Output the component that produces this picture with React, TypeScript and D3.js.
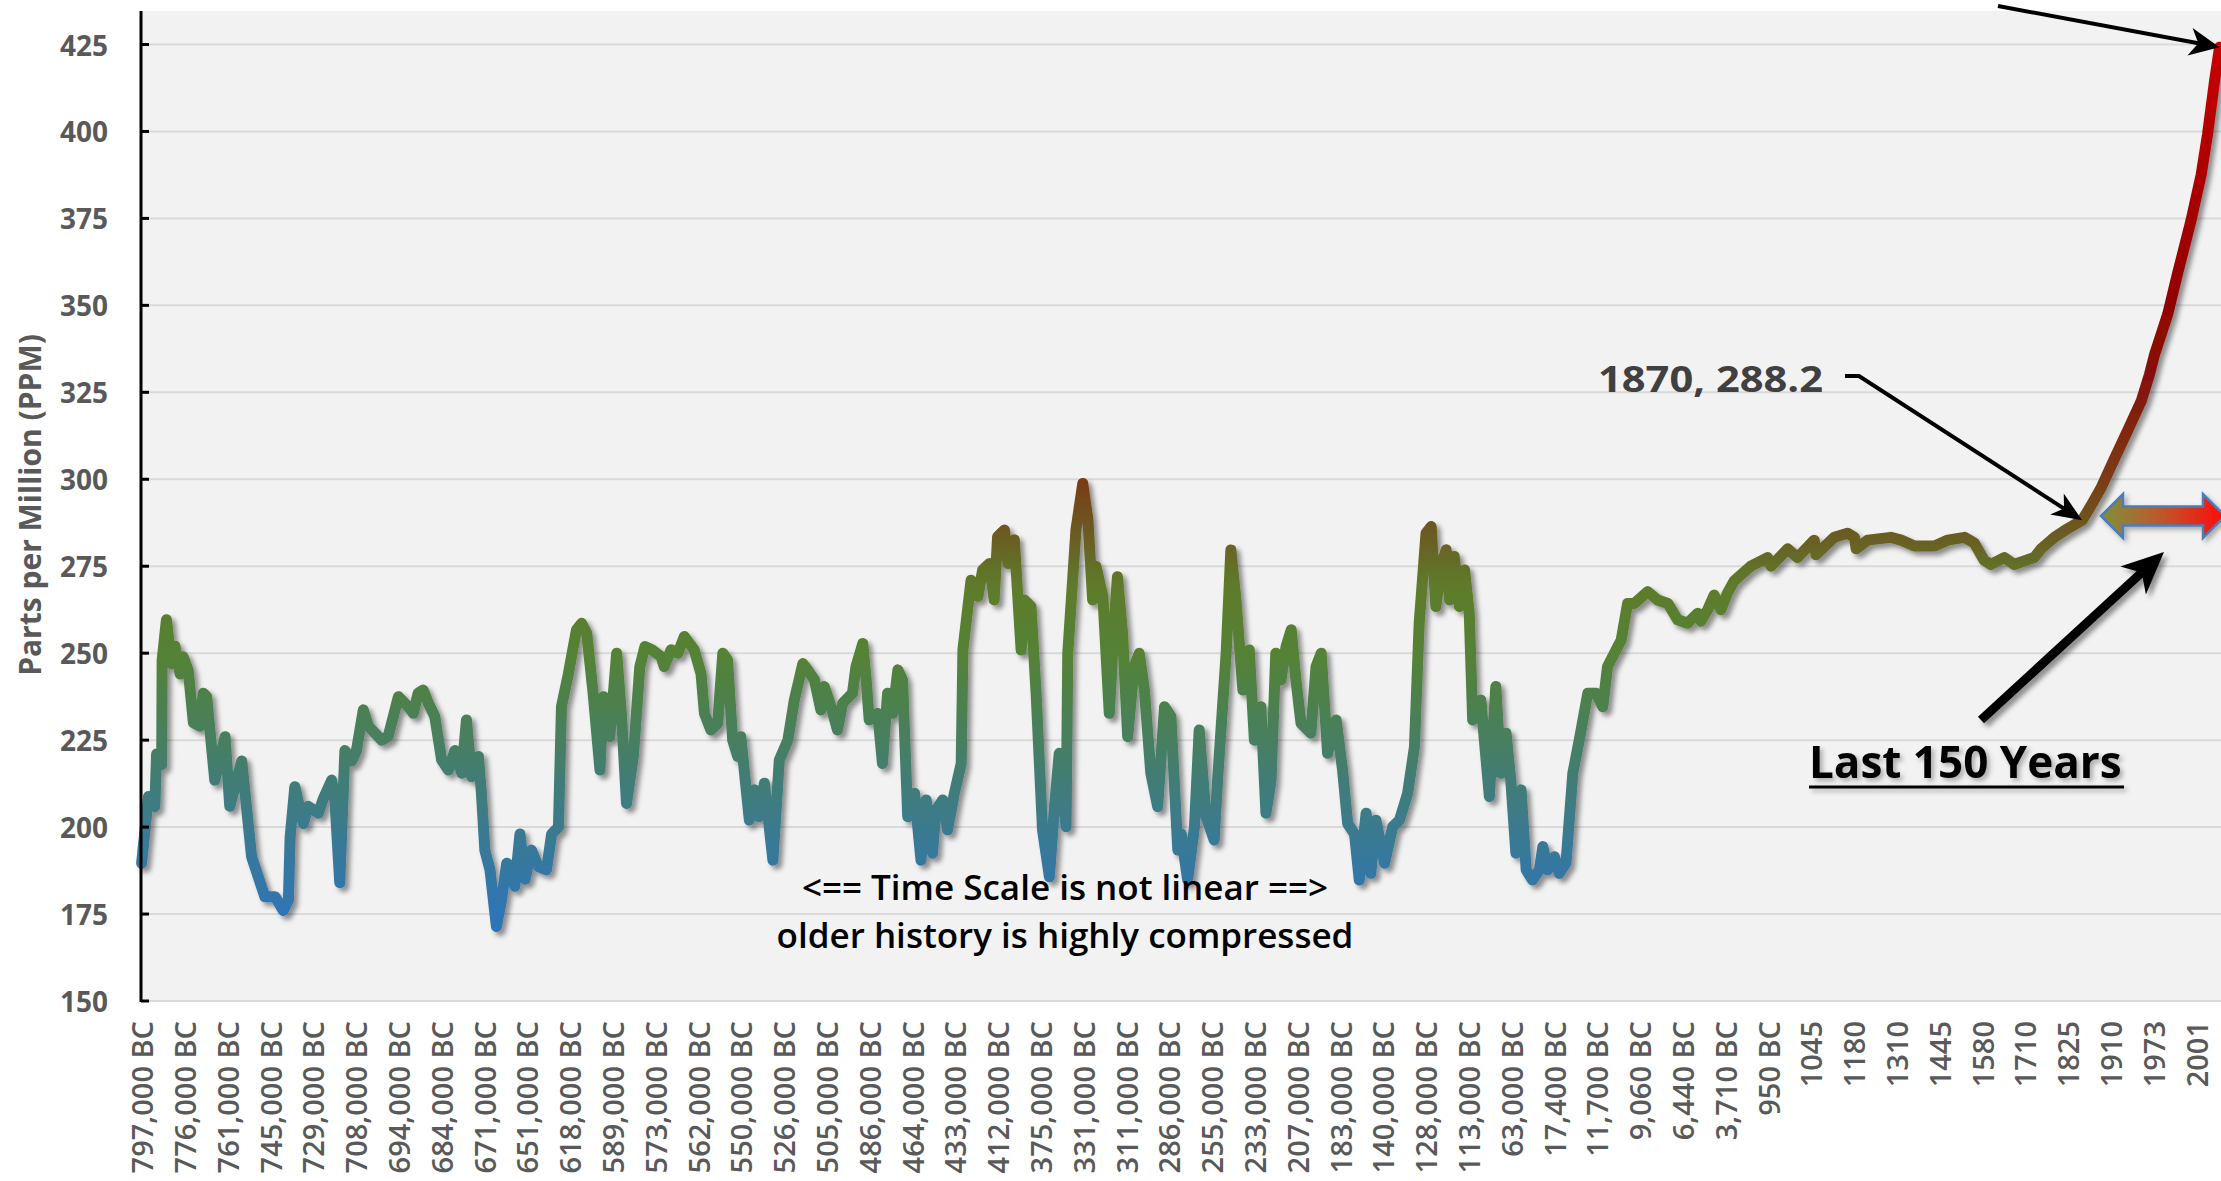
import React from 'react';
import * as d3 from 'd3';

// ---------- DATA ----------
const xLabels: string[] = [
  '797,000 BC', '776,000 BC', '761,000 BC', '745,000 BC', '729,000 BC', '708,000 BC', '694,000 BC',
  '684,000 BC', '671,000 BC', '651,000 BC', '618,000 BC', '589,000 BC', '573,000 BC', '562,000 BC',
  '550,000 BC', '526,000 BC', '505,000 BC', '486,000 BC', '464,000 BC', '433,000 BC', '412,000 BC',
  '375,000 BC', '331,000 BC', '311,000 BC', '286,000 BC', '255,000 BC', '233,000 BC', '207,000 BC',
  '183,000 BC', '140,000 BC', '128,000 BC', '113,000 BC', '63,000 BC', '17,400 BC', '11,700 BC',
  '9,060 BC', '6,440 BC', '3,710 BC', '950 BC', '1045', '1180', '1310', '1445', '1580', '1710',
  '1825', '1910', '1973', '2001',
];

const yTicks: number[] = [150, 175, 200, 225, 250, 275, 300, 325, 350, 375, 400, 425];

// [category position (label index), CO2 ppm]
const cycles800kTo600k: [number, number][] = [
  [0, 189.6], [0.16, 208.8], [0.31, 205.9], [0.35, 221], [0.47, 218], [0.48, 248], [0.58, 259.6],
  [0.7, 247], [0.78, 252], [0.9, 244], [0.97, 249], [1.09, 245], [1.21, 230], [1.36, 229],
  [1.44, 238.5], [1.52, 237.5], [1.71, 213.5], [1.95, 226], [2.06, 206], [2.34, 219], [2.57, 191.5],
  [2.88, 180], [3.12, 180], [3.31, 176], [3.43, 179], [3.47, 197], [3.58, 211.6], [3.78, 201],
  [3.89, 206], [4.13, 204], [4.24, 208], [4.44, 213.5], [4.52, 207], [4.63, 184], [4.75, 222],
  [4.91, 219], [5.02, 222], [5.18, 233.7], [5.3, 229], [5.61, 225], [5.76, 226], [6.0, 237.5],
  [6.23, 234.6], [6.35, 232.7], [6.46, 238.5], [6.58, 239.4], [6.7, 235.6], [6.85, 231.8],
  [7.01, 219.3], [7.17, 216.4], [7.32, 222], [7.48, 215.5], [7.59, 230.8], [7.71, 214.5],
  [7.87, 220.3], [7.94, 209.7], [8.02, 193.4], [8.14, 187.7], [8.29, 171.4], [8.41, 179],
  [8.53, 189.6], [8.64, 188.6], [8.72, 183], [8.84, 198], [8.96, 185], [9.11, 193.4], [9.27, 188.6],
  [9.46, 187.7], [9.58, 198], [9.74, 200], [9.81, 234.6], [9.97, 244], [10.16, 256.7],
  [10.28, 258.6], [10.4, 255.7], [10.55, 238.5], [10.71, 216.4], [10.79, 237.5], [10.94, 226],
  [11.1, 250], [11.21, 232.7], [11.33, 206.8], [11.49, 220.3], [11.64, 246.1], [11.76, 251.9],
  [11.92, 251],
];

const cycles570kTo290k: [number, number][] = [
  [12.14, 249], [12.21, 246.1], [12.37, 251], [12.53, 250], [12.68, 254.8], [12.91, 251],
  [13.07, 244.2], [13.15, 232.7], [13.3, 227.9], [13.46, 229.8], [13.58, 250], [13.69, 248],
  [13.81, 225], [13.93, 220.3], [14.0, 226], [14.2, 202], [14.32, 210.7], [14.43, 203],
  [14.55, 212.6], [14.75, 190.5], [14.9, 219.3], [15.1, 225], [15.25, 236.5], [15.45, 247],
  [15.56, 245.2], [15.72, 242.3], [15.87, 233.7], [15.95, 240.4], [16.11, 234.6], [16.26, 227.9],
  [16.38, 235.6], [16.61, 238.5], [16.69, 246.1], [16.85, 252.8], [16.93, 242.3], [17.0, 230.8],
  [17.2, 232.7], [17.31, 218.3], [17.43, 238.5], [17.55, 232.7], [17.67, 245.2], [17.78, 242.3],
  [17.9, 203], [18.06, 209.7], [18.21, 190.5], [18.33, 207.8], [18.48, 192.5], [18.56, 204.9],
  [18.72, 207.8], [18.83, 199.2], [18.99, 209.7], [19.15, 218.3], [19.19, 251], [19.38, 271],
  [19.54, 266.3], [19.65, 273.9], [19.81, 275.8], [19.92, 265.3], [20.0, 283.5], [20.16, 285.4],
  [20.24, 275.8], [20.39, 282.6], [20.55, 250.9], [20.63, 265.3], [20.78, 263.4], [20.9, 238.5],
  [21.05, 199.2], [21.21, 185.7], [21.33, 205.9], [21.44, 221.2], [21.6, 200.1], [21.64, 250],
  [21.83, 285.4], [21.99, 298.8], [22.11, 288.4], [22.22, 265.3], [22.3, 274.9], [22.46, 266.3],
  [22.61, 232.7], [22.73, 259.6], [22.8, 272], [22.92, 255.7], [23.04, 226], [23.19, 246.1],
  [23.31, 250], [23.43, 239.4], [23.58, 215.5], [23.74, 205.9], [23.9, 234.6], [24.05, 231.8],
  [24.21, 193.4],
];

const cycles280kTo9k: [number, number][] = [
  [24.29, 198], [24.44, 184.8], [24.6, 200.1], [24.71, 227.9], [24.87, 203], [25.06, 196.3],
  [25.14, 213.5], [25.34, 250], [25.45, 279.7], [25.57, 265.3], [25.73, 239.4], [25.88, 250.9],
  [26.0, 225], [26.15, 234.6], [26.27, 204], [26.39, 213.5], [26.5, 250], [26.62, 242.3],
  [26.74, 251.9], [26.86, 256.7], [26.97, 242.3], [27.09, 229.8], [27.32, 227], [27.44, 246.1],
  [27.56, 250], [27.71, 221.2], [27.91, 230.8], [28.06, 216.4], [28.18, 201], [28.34, 198],
  [28.45, 184.8], [28.61, 204], [28.72, 186.7], [28.84, 202], [29.04, 189.6], [29.23, 200.1],
  [29.39, 202], [29.58, 209.7], [29.74, 223.1], [29.85, 258.6], [30.01, 284.5], [30.13, 286.4],
  [30.24, 263.4], [30.36, 274.9], [30.48, 279.7], [30.56, 265.3], [30.67, 277.8], [30.79, 263.4],
  [30.91, 273.9], [31.02, 261.5], [31.1, 230.8], [31.29, 236.5], [31.49, 208.8], [31.64, 240.4],
  [31.76, 215.5], [31.88, 227], [31.99, 213.5], [32.11, 192.5], [32.23, 210.7], [32.35, 187.7],
  [32.5, 184.8], [32.66, 187.7], [32.74, 194.4], [32.85, 187.7], [33.01, 191.5], [33.12, 186.7],
  [33.28, 189.6], [33.44, 215.5], [33.59, 225], [33.79, 238.5], [33.98, 238.5], [34.14, 234.6],
  [34.25, 246.1], [34.41, 250], [34.57, 253.8], [34.72, 264.3], [34.88, 264.3], [35.19, 267.7],
  [35.42, 265.3], [35.66, 264.3], [35.89, 259.6], [36.12, 258.6],
];

const holoceneAndIndustrial: [number, number][] = [
  [36.36, 261.5], [36.43, 259.2], [36.59, 262.5], [36.74, 266.7], [36.9, 262.5], [37.06, 267.5],
  [37.21, 270.8], [37.6, 275], [37.99, 277.5], [38.07, 275], [38.46, 280], [38.69, 277.5],
  [39.08, 282.5], [39.12, 278.3], [39.55, 283.3], [39.86, 284.5], [40.02, 283.3], [40.06, 280],
  [40.33, 282.5], [40.87, 283.3], [41.11, 282.5], [41.42, 280.8], [41.89, 280.8], [42.2, 282.5],
  [42.59, 283.3], [42.82, 281.7], [43.05, 276.7], [43.21, 275.5], [43.52, 277.5], [43.75, 275.5],
  [44.22, 277.5], [44.38, 280], [44.69, 283.3], [45.0, 285.8], [45.34, 288.2], [45.55, 292.5],
  [45.78, 297.5], [46.09, 305.8], [46.41, 314.2], [46.72, 322.5], [46.91, 330], [47.03, 335.8],
  [47.34, 347.5], [47.57, 359.2], [47.88, 374.2], [48.12, 387.5], [48.27, 399.2], [48.43, 414.2],
  [48.55, 424.2],
];

const series: [number, number][] = [
  ...cycles800kTo600k, ...cycles570kTo290k, ...cycles280kTo9k, ...holoceneAndIndustrial,
];

const highlight1870: [number, number] = [45.34, 288.2];

// ---------- STYLE ----------
const W = 2221;
const H = 1181;
const FONT = "'Open Sans', 'Noto Sans', sans-serif";
const colorStops: [number, string][] = [
  [425, '#c80000'], [360, '#980000'], [330, '#860f08'], [300, '#7a3c15'], [285, '#6b5a22'],
  [270, '#5f7a2b'], [250, '#548235'], [225, '#477f60'], [200, '#3b7a8e'], [175, '#2e75b6'],
];

const x = d3.scaleLinear().domain([0, xLabels.length - 1]).range([141.6, 2196]);
const y = d3.scaleLinear().domain([150, 425]).range([1001, 44.5]);

const plotLeft = 141;
const plotTop = 11;
const plotBottom = 1002;

function arrowHead(x1: number, y1: number, x2: number, y2: number, len: number, wid: number) {
  const dx = x2 - x1;
  const dy = y2 - y1;
  const d = Math.hypot(dx, dy);
  const ux = dx / d;
  const uy = dy / d;
  const nx = -uy;
  const ny = ux;
  const bx = x2 - ux * len;
  const by = y2 - uy * len;
  const kx = x2 - ux * len * 0.72;
  const ky = y2 - uy * len * 0.72;
  return {
    path: `M${x2},${y2}L${bx + (nx * wid) / 2},${by + (ny * wid) / 2}L${kx},${ky}L${bx - (nx * wid) / 2},${by - (ny * wid) / 2}Z`,
    notch: [kx, ky] as [number, number],
  };
}

export default function App() {
  const line = d3
    .line<[number, number]>()
    .x((d) => x(d[0]))
    .y((d) => y(d[1]));

  const g1 = y(425);
  const g2 = y(175);

  const tipX = x(highlight1870[0]);
  const tipY = y(highlight1870[1]);
  const a1870 = arrowHead(1859, 376, tipX, tipY, 30, 25);
  const last = series[series.length - 1];
  const topTipX = x(last[0]);
  const topTipY = y(last[1]);
  const aTop = arrowHead(1998, 6, topTipX, topTipY, 30, 28);
  const aBig = arrowHead(1981, 720, 2164, 552, 42, 38);

  const da = { l: 2101, r: 2225, cy: 516, head: 22, hh: 22, sh: 9.5 };
  const dblPath = [
    `M${da.l},${da.cy}`,
    `L${da.l + da.head},${da.cy - da.hh}`,
    `L${da.l + da.head},${da.cy - da.sh}`,
    `L${da.r - da.head},${da.cy - da.sh}`,
    `L${da.r - da.head},${da.cy - da.hh}`,
    `L${da.r},${da.cy}`,
    `L${da.r - da.head},${da.cy + da.hh}`,
    `L${da.r - da.head},${da.cy + da.sh}`,
    `L${da.l + da.head},${da.cy + da.sh}`,
    `L${da.l + da.head},${da.cy + da.hh}`,
    'Z',
  ].join('');

  return (
    <svg
      width={W}
      height={H}
      style={{ position: 'absolute', left: 0, top: 0, display: 'block' }}
      fontFamily={FONT}
    >
      <defs>
        <linearGradient id="co2Grad" gradientUnits="userSpaceOnUse" x1={0} y1={g1} x2={0} y2={g2}>
          {colorStops.map(([p, c]) => (
            <stop key={p} offset={(y(p) - g1) / (g2 - g1)} stopColor={c} />
          ))}
        </linearGradient>
        <linearGradient id="dblGrad" x1="0" y1="0" x2="1" y2="0">
          <stop offset="0.1" stopColor="#8a873a" />
          <stop offset="0.5" stopColor="#c0552a" />
          <stop offset="1" stopColor="#ff0a0a" />
        </linearGradient>
        <filter id="shadow" filterUnits="userSpaceOnUse" x={0} y={0} width={W} height={H}>
          <feDropShadow dx={4} dy={4} stdDeviation={2.5} floodColor="#000" floodOpacity={0.42} />
        </filter>
        <filter id="shadowSoft" filterUnits="userSpaceOnUse" x={0} y={0} width={W} height={H}>
          <feDropShadow dx={3} dy={3} stdDeviation={2.5} floodColor="#000" floodOpacity={0.3} />
        </filter>
      </defs>

      <rect x={0} y={0} width={W} height={H} fill="#ffffff" />
      <rect x={plotLeft} y={plotTop} width={W - plotLeft} height={plotBottom - plotTop} fill="#f2f2f2" />

      {yTicks.map((t) => (
        <line key={t} x1={plotLeft} x2={W} y1={y(t)} y2={y(t)} stroke="#d9d9d9" strokeWidth={2} />
      ))}

      <path
        d={line(series) || ''}
        fill="none"
        stroke="url(#co2Grad)"
        strokeWidth={11}
        strokeLinejoin="round"
        strokeLinecap="round"
        filter="url(#shadow)"
      />

      <line x1={plotLeft} x2={plotLeft} y1={plotTop} y2={plotBottom} stroke="#000" strokeWidth={3} />
      {yTicks.map((t) => (
        <line key={t} x1={plotLeft} x2={plotLeft + 8} y1={y(t)} y2={y(t)} stroke="#000" strokeWidth={3} />
      ))}
      {yTicks.map((t) => (
        <text
          key={t}
          x={108}
          y={y(t)}
          textAnchor="end"
          dominantBaseline="central"
          fontSize={28}
          fontWeight={700}
          fill="#595959"
        >
          {t}
        </text>
      ))}
      <text
        transform="translate(29,505) rotate(-90)"
        textAnchor="middle"
        dominantBaseline="central"
        fontSize={30}
        fontWeight={700}
        fill="#595959"
      >
        Parts per Million (PPM)
      </text>

      {xLabels.map((l, i) => (
        <text
          key={l}
          transform={`translate(${x(i)},1021) rotate(-90)`}
          textAnchor="end"
          dominantBaseline="central"
          fontSize={29}
          fontWeight={600}
          fill="#595959"
        >
          {l}
        </text>
      ))}

      <text x={1065} y={900} textAnchor="middle" fontSize={35} fontWeight={600} fill="#000">
        {'<== Time Scale is not linear ==>'}
      </text>
      <text x={1065} y={948} textAnchor="middle" fontSize={35} fontWeight={600} fill="#000">
        older history is highly compressed
      </text>

      <text
        x={1598}
        y={392}
        fontSize={36}
        fontWeight={700}
        fill="#404040"
        textLength={225}
        lengthAdjust="spacingAndGlyphs"
      >
        1870, 288.2
      </text>
      <polyline
        points={`1845,376 1859,376 ${a1870.notch[0]},${a1870.notch[1]}`}
        fill="none"
        stroke="#000"
        strokeWidth={4}
      />
      <path d={a1870.path} fill="#000" />

      <line x1={1998} y1={6} x2={aTop.notch[0]} y2={aTop.notch[1]} stroke="#000" strokeWidth={4} />
      <path d={aTop.path} fill="#000" />

      <path d={dblPath} fill="url(#dblGrad)" stroke="#4a7ebb" strokeWidth={2.5} filter="url(#shadowSoft)" />

      <g filter="url(#shadow)">
        <line x1={1981} y1={720} x2={aBig.notch[0]} y2={aBig.notch[1]} stroke="#000" strokeWidth={9} />
        <path d={aBig.path} fill="#000" />
      </g>
      <g filter="url(#shadowSoft)">
        <text x={1809} y={778} fontSize={44} fontWeight={700} fill="#000">
          Last 150 Years
        </text>
        <line x1={1809} x2={2124} y1={787} y2={787} stroke="#000" strokeWidth={3} />
      </g>
    </svg>
  );
}
